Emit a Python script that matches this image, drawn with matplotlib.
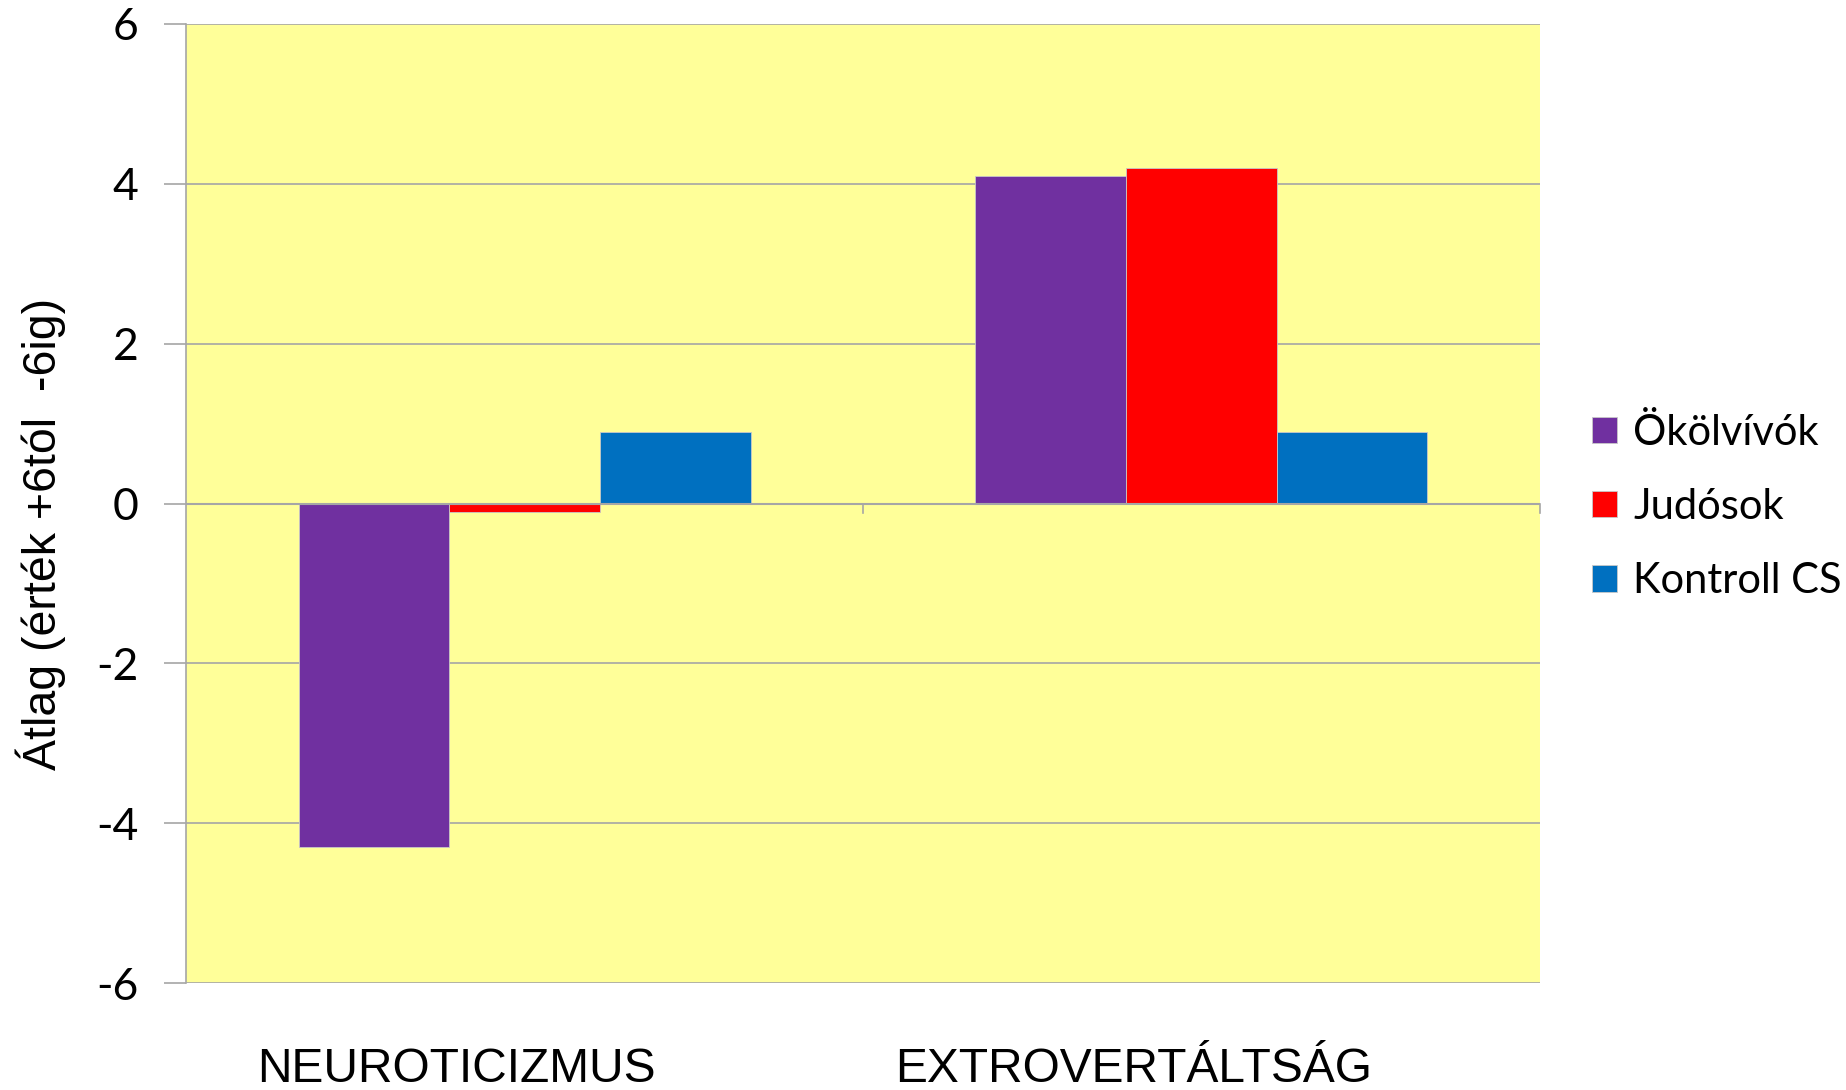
import numpy as np
import matplotlib
matplotlib.use('Agg')
import matplotlib.pyplot as plt
from matplotlib.transforms import blended_transform_factory


categories = ['NEUROTICIZMUS', 'EXTROVERTÁLTSÁG']
series_names = ['Ökölvívók', 'Judósok', 'Kontroll CS']
okolvivok = [-4.3, 4.1]
judosok = [-0.1, 4.2]
kontroll = [0.9, 0.9]
yticks = [-6, -4, -2, 0, 2, 4, 6]

colors = ['#7030A0', '#FF0000', '#0070C0']


def plot_data():
	fig = plt.figure(figsize=(18.46, 10.90), dpi=100)
	ax = fig.add_axes([0.1008, 0.098, 0.7334, 0.88])
	ax.set_facecolor('#FFFF99')

	x = np.arange(len(categories))
	width = 0.2226
	values = [okolvivok, judosok, kontroll]
	for i, (name, vals) in enumerate(zip(series_names, values)):
		ax.bar(x + (i - 1) * width, vals, width=width, color=colors[i], label=name,
			edgecolor='#c8c8c8', linewidth=0.6, zorder=3)

	ax.set_xlim(-0.5, len(categories) - 0.5)
	ax.set_ylim(-6, 6)
	ax.set_yticks(yticks)
	ax.set_yticklabels([str(t) for t in yticks], fontsize=32, family='Lato')
	ax.yaxis.grid(True, color='#a6a6a6', linewidth=1.2, zorder=0)
	ax.set_axisbelow(True)
	ax.tick_params(axis='y', length=16, width=1.2, color='#a6a6a6', pad=18)

	for s in ['top', 'right', 'bottom']:
		ax.spines[s].set_visible(False)
	ax.spines['left'].set_color('#a6a6a6')
	ax.spines['left'].set_linewidth(1.2)

	# horizontal axis sits at zero, with category separator ticks
	ax.axhline(0, color='#a6a6a6', linewidth=1.5, zorder=4)
	ax.set_xticks([])
	for b in [0.5, 1.5]:
		ax.plot([b, b], [0, -0.12], color='#a6a6a6', linewidth=1.2, zorder=4, clip_on=False)

	trans = blended_transform_factory(ax.transData, ax.transAxes)
	for xi, cat in zip(x, categories):
		ax.text(xi - 0.1, -0.09, cat, transform=trans, ha='center', va='center',
			fontsize=34.5, family='Liberation Sans')

	fig.text(0.022, 0.51, 'Átlag (érték +6tól  -6ig)', rotation=90, ha='center', va='center',
		fontsize=33.5, family='Liberation Sans')

	ax.legend(loc='center left', bbox_to_anchor=(0.842, 0.535), bbox_transform=fig.transFigure,
		frameon=False, prop={'family': 'Lato', 'size': 30},
		handlelength=0.6, handleheight=0.6, handletextpad=0.4, labelspacing=0.87)

	fig.savefig('out.png', dpi=100, facecolor='white')


if __name__ == '__main__':
	plot_data()
